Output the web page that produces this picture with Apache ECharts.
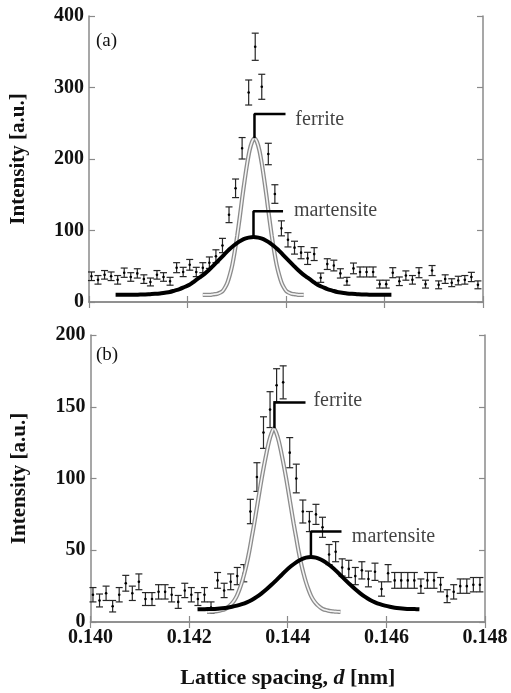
<!DOCTYPE html>
<html>
<head>
<meta charset="utf-8">
<script src="https://cdn.jsdelivr.net/npm/echarts@6/dist/echarts.min.js"></script>
<style>
  html, body { margin: 0; padding: 0; background: #fff; }
  #chart { width: 511px; height: 693px; }
</style>
</head>
<body>
<div id="chart"></div>
<script>
// lattice spacing of the measured points (nm), shared by both panels
var D = [
  0.140050, 0.140183, 0.140316, 0.140449, 0.140582, 0.140715, 0.140848, 0.140981, 0.141114, 0.141247,
  0.141380, 0.141513, 0.141646, 0.141779, 0.141912, 0.142045, 0.142178, 0.142311, 0.142444, 0.142577,
  0.142710, 0.142843, 0.142976, 0.143109, 0.143242, 0.143375, 0.143508, 0.143641, 0.143774, 0.143907,
  0.144040, 0.144173, 0.144306, 0.144439, 0.144572, 0.144705, 0.144838, 0.144971, 0.145104, 0.145237,
  0.145370, 0.145503, 0.145636, 0.145769, 0.145902, 0.146035, 0.146168, 0.146301, 0.146434, 0.146567,
  0.146700, 0.146833, 0.146966, 0.147099, 0.147232, 0.147365, 0.147498, 0.147631, 0.147764, 0.147897
];

// panel (a) measured intensity and error
var A_INT = [
  36, 31, 38, 36, 31, 41, 35, 40, 32, 28,
  38, 35, 29, 48, 42, 52, 42, 48, 55, 64,
  79, 122, 159, 215, 293, 357, 301, 207, 151, 103,
  87, 76, 69, 61, 67, 34, 53, 51, 40, 29,
  47, 42, 42, 42, 25, 25, 41, 29, 37, 31,
  41, 25, 44, 24, 32, 27, 30, 31, 35, 24
];
var A_ERR = [
  6, 6, 6, 6, 6, 6.5, 6, 6.5, 6, 5.5,
  6, 6, 5.5, 7, 6.5, 7.5, 6.5, 7, 8, 9,
  10, 11, 13, 15, 17.5, 19, 17.5, 15, 13, 10.5,
  10, 9, 8.5, 8.5, 9, 6.5, 7.5, 7.5, 6.5, 5.5,
  7.5, 7, 7, 7, 5.5, 5.5, 7, 6, 6.5, 6,
  7, 5.5, 7, 5.5, 6, 5.5, 6, 6, 6.5, 5.5
];

// panel (b) measured intensity and error
var B_INT = [
  19, 15, 20, 11, 19, 27, 20, 28, 16, 16,
  21, 21, 19, 14, 22, 19, 16, 19, 10, 29,
  22, 28, 32, 34, 77, 101, 132, 148, 165, 167,
  118, 100, 77, 70, 75, 66, 47, 49, 38, 37,
  32, 36, 30, 35, 23, 34, 29, 29, 29, 29,
  25, 29, 29, 26, 18, 21, 25, 25, 26, 26
];
var B_ERR = [
  5, 4.5, 5, 4, 5, 5.5, 5, 5.5, 4.5, 4.5,
  5, 5, 5, 4.5, 5, 5, 4.5, 5, 4, 5.5,
  5, 5.5, 6, 6, 8.5, 10, 11, 12.5, 11.5, 11.5,
  10.5, 10, 8, 7, 7, 7, 7, 7, 6, 6,
  6, 6, 5.5, 6, 5, 6, 5.5, 5.5, 5.5, 5.5,
  5, 5.5, 5.5, 5, 4.5, 5, 5, 5, 5, 5
];

// fitted profiles, panel (a)
var FA_FER_D = [
  0.14231, 0.14236, 0.14241, 0.14246, 0.14251, 0.14256, 0.14261, 0.14266, 0.14271, 0.14276,
  0.14281, 0.14286, 0.14291, 0.14296, 0.14301, 0.14306, 0.14311, 0.14316, 0.14321, 0.14326,
  0.14331, 0.14336, 0.14341, 0.14346, 0.14351, 0.14356, 0.14361, 0.14366, 0.14371, 0.14376,
  0.14381, 0.14386, 0.14391, 0.14396, 0.14401, 0.14406, 0.14411, 0.14416, 0.14421, 0.14426,
  0.14431, 0.14436
];
var FA_FER_V = [
  10, 10, 10, 10, 10.5, 11, 11.5, 13, 15, 20,
  27, 38, 52, 71, 93, 118, 145, 170, 193, 212,
  224, 229, 224, 212, 193, 170, 145, 118, 93, 71,
  52, 38, 27, 20, 15, 13, 11.5, 11, 10.5, 10,
  10, 10
];
var FA_MAR_D = [
  0.14054, 0.14064, 0.14074, 0.14084, 0.14094, 0.14104, 0.14114, 0.14124, 0.14134, 0.14144,
  0.14154, 0.14164, 0.14174, 0.14184, 0.14194, 0.14204, 0.14214, 0.14224, 0.14234, 0.14244,
  0.14254, 0.14264, 0.14274, 0.14284, 0.14294, 0.14304, 0.14314, 0.14324, 0.14334, 0.14344,
  0.14354, 0.14364, 0.14374, 0.14384, 0.14394, 0.14404, 0.14414, 0.14424, 0.14434, 0.14444,
  0.14454, 0.14464, 0.14474, 0.14484, 0.14494, 0.14504, 0.14514, 0.14524, 0.14534, 0.14544,
  0.14554, 0.14564, 0.14574, 0.14584, 0.14594, 0.14604, 0.14614
];
var FA_MAR_V = [
  10, 10, 10, 10, 10.2, 10.4, 10.6, 11, 11.4, 12,
  13, 14, 16, 18, 21, 24, 29, 34, 39, 45,
  52, 59, 66, 73, 79, 84, 88, 90, 91, 90,
  88, 84, 79, 73, 66, 59, 52, 45, 39, 34,
  29, 24, 21, 18, 16, 14, 13, 12, 11.4, 11,
  10.6, 10.4, 10.2, 10, 10, 10, 10
];

// fitted profiles, panel (b)
var FB_FER_D = [
  0.14237, 0.14242, 0.14247, 0.14252, 0.14257, 0.14262, 0.14267, 0.14272, 0.14277, 0.14282,
  0.14287, 0.14292, 0.14297, 0.14302, 0.14307, 0.14312, 0.14317, 0.14322, 0.14327, 0.14332,
  0.14337, 0.14342, 0.14347, 0.14352, 0.14357, 0.14362, 0.14367, 0.14372, 0.14377, 0.14382,
  0.14387, 0.14392, 0.14397, 0.14402, 0.14407, 0.14412, 0.14417, 0.14422, 0.14427, 0.14432,
  0.14437, 0.14442, 0.14447, 0.14452, 0.14457, 0.14462, 0.14467, 0.14472, 0.14477, 0.14482,
  0.14487, 0.14492, 0.14497, 0.14502, 0.14507
];
var FB_FER_V = [
  7, 7.1, 7.2, 7.4, 7.6, 7.9, 8.3, 8.9, 9.9, 11.3,
  13, 15.3, 18.4, 22.6, 27.7, 33.8, 40.9, 49.3, 58.9, 68.5,
  78.9, 89.4, 99.8, 109.2, 117.9, 125.8, 131.5, 135, 131.5, 125.8,
  117.9, 109.2, 99.8, 89.4, 78.9, 68.5, 58.9, 49.3, 40.9, 33.8,
  27.7, 22.6, 18.4, 15.3, 13, 11.3, 9.9, 8.9, 8.3, 7.9,
  7.6, 7.4, 7.2, 7.1, 7
];
var FB_MAR_D = [
  0.14217, 0.14227, 0.14237, 0.14247, 0.14257, 0.14267, 0.14277, 0.14287, 0.14297, 0.14307,
  0.14317, 0.14327, 0.14337, 0.14347, 0.14357, 0.14367, 0.14377, 0.14387, 0.14397, 0.14407,
  0.14417, 0.14427, 0.14437, 0.14447, 0.14457, 0.14467, 0.14477, 0.14487, 0.14497, 0.14507,
  0.14517, 0.14527, 0.14537, 0.14547, 0.14557, 0.14567, 0.14577, 0.14587, 0.14597, 0.14607,
  0.14617, 0.14627, 0.14637, 0.14647, 0.14657, 0.14667
];
var FB_MAR_V = [
  8.8, 8.9, 9, 9.1, 9.3, 9.6, 10, 10.6, 11.4, 12.4,
  13.7, 15.4, 17.5, 20, 22.8, 25.9, 29.2, 32.6, 36, 39,
  41.6, 43.6, 44.9, 45.3, 44.9, 43.6, 41.6, 39, 36, 32.6,
  29.2, 25.9, 22.8, 20, 17.5, 15.4, 13.7, 12.4, 11.4, 10.6,
  10, 9.6, 9.3, 9.1, 9, 8.9
];

// peak annotations (data coordinates): bracket corner points and label anchors
var A_FER_BRACKET = [[0.14336, 229], [0.14336, 263], [0.14399, 263]];
var A_MAR_BRACKET = [[0.14334, 91], [0.14334, 127], [0.14394, 127]];
var B_FER_BRACKET = [[0.14373, 135], [0.14373, 153], [0.14436, 153]];
var B_MAR_BRACKET = [[0.14447, 45.3], [0.14447, 63], [0.14509, 63]];
var A_LABELS = [{ name: "ferrite", value: [0.14419, 255.5] }, { name: "martensite", value: [0.14416, 128] }];
var B_LABELS = [{ name: "ferrite", value: [0.14452, 154.5] }, { name: "martensite", value: [0.1453, 59.7] }];

var X_MIN = 0.14, X_MAX = 0.148, X_STEP = 0.002;
var SERIF = "Liberation Serif";

function zip(xs, ys) {
  return xs.map(function (x, i) { return [x, ys[i]]; });
}
function zip3(xs, ys, es) {
  return xs.map(function (x, i) { return [x, ys[i], es[i]]; });
}

function errorBar(params, api) {
  var x = api.value(0), y = api.value(1), e = api.value(2);
  var hi = api.coord([x, y + e]);
  var lo = api.coord([x, y - e]);
  var mid = api.coord([x, y]);
  var cap = 3.5;
  var st = { stroke: "#262626", lineWidth: 1.2 };
  return {
    type: "group",
    children: [
      { type: "line", shape: { x1: hi[0], y1: hi[1], x2: lo[0], y2: lo[1] }, style: st },
      { type: "line", shape: { x1: hi[0] - cap, y1: hi[1], x2: hi[0] + cap, y2: hi[1] }, style: st },
      { type: "line", shape: { x1: lo[0] - cap, y1: lo[1], x2: lo[0] + cap, y2: lo[1] }, style: st },
      { type: "circle", shape: { cx: mid[0], cy: mid[1], r: 1.3 }, style: { fill: "#000" } }
    ]
  };
}

var axisLine = { show: true, lineStyle: { color: "#8a8a8a", width: 1.5 } };
var axisTick = { show: true, inside: true, length: 6, lineStyle: { color: "#8a8a8a", width: 1.2 } };
var tickFont = { fontFamily: SERIF, fontWeight: "bold", fontSize: 20, color: "#111" };

function xAxes(gridIndex, showLabels) {
  var bottom = {
    type: "value", gridIndex: gridIndex, position: "bottom",
    min: X_MIN, max: X_MAX, interval: X_STEP,
    axisLine: axisLine, axisTick: axisTick, splitLine: { show: false },
    axisLabel: Object.assign({ show: showLabels, margin: 6,
      formatter: function (v) { return v.toFixed(3); } }, tickFont)
  };
  if (showLabels) {
    bottom.name = "Lattice spacing, {i|d} [nm]";
    bottom.nameLocation = "middle";
    bottom.nameGap = 45;
    bottom.nameTextStyle = {
      fontFamily: SERIF, fontWeight: "bold", fontSize: 22, color: "#111",
      rich: { i: { fontFamily: SERIF, fontWeight: "bold", fontStyle: "italic", fontSize: 22, color: "#111" } }
    };
  }
  var top = {
    type: "value", gridIndex: gridIndex, position: "top",
    min: X_MIN, max: X_MAX, interval: X_STEP,
    axisLine: axisLine, axisTick: axisTick, splitLine: { show: false },
    axisLabel: { show: false }
  };
  return [bottom, top];
}

function yAxes(gridIndex, max, step) {
  var left = {
    type: "value", gridIndex: gridIndex, position: "left",
    min: 0, max: max, interval: step,
    axisLine: axisLine, axisTick: axisTick, splitLine: { show: false },
    axisLabel: Object.assign({ margin: 5 }, tickFont),
    name: "Intensity [a.u.]", nameLocation: "middle", nameRotate: 90, nameGap: 60,
    nameTextStyle: { fontFamily: SERIF, fontWeight: "bold", fontSize: 21, color: "#111" }
  };
  var right = {
    type: "value", gridIndex: gridIndex, position: "right",
    min: 0, max: max, interval: step,
    axisLine: axisLine, axisTick: axisTick, splitLine: { show: false },
    axisLabel: { show: false }
  };
  return [left, right];
}

function panelSeries(xi, yi, pts, ferrite, martensite, brackets, labels) {
  var list = [
    { type: "custom", xAxisIndex: xi, yAxisIndex: yi, renderItem: errorBar, data: pts, z: 2 },
    { type: "line", xAxisIndex: xi, yAxisIndex: yi, data: ferrite, smooth: 0.3, showSymbol: false,
      lineStyle: { color: "#8c8c8c", width: 4.2 }, z: 3 },
    { type: "line", xAxisIndex: xi, yAxisIndex: yi, data: ferrite, smooth: 0.3, showSymbol: false,
      lineStyle: { color: "#f4f4f4", width: 1.6 }, z: 4 },
    { type: "line", xAxisIndex: xi, yAxisIndex: yi, data: martensite, smooth: 0.3, showSymbol: false,
      lineStyle: { color: "#000", width: 4 }, z: 5 }
  ];
  brackets.forEach(function (b) {
    list.push({ type: "line", xAxisIndex: xi, yAxisIndex: yi, data: b, showSymbol: false,
      lineStyle: { color: "#000", width: 2.5 }, z: 6 });
  });
  list.push({
    type: "scatter", xAxisIndex: xi, yAxisIndex: yi, data: labels, symbolSize: 0, z: 7,
    label: { show: true, position: "right", distance: 0, formatter: "{b}",
      fontFamily: SERIF, fontSize: 20, color: "#111" }
  });
  return list;
}

var chart = echarts.init(document.getElementById("chart"));
var option = {
  animation: false,
  backgroundColor: "#fff",
  grid: [
    { left: 88, top: 16, width: 395, height: 286 },
    { left: 90.5, top: 335, width: 394.5, height: 287 }
  ],
  xAxis: xAxes(0, false).concat(xAxes(1, true)),
  yAxis: yAxes(0, 400, 100).concat(yAxes(1, 200, 50)),
  graphic: [
    { type: "text", left: 96, top: 32, style: { text: "(a)", font: "19px '" + SERIF + "'", fill: "#111" } },
    { type: "text", left: 96, top: 346, style: { text: "(b)", font: "19px '" + SERIF + "'", fill: "#111" } }
  ],
  series: [].concat(
    panelSeries(0, 0, zip3(D, A_INT, A_ERR), zip(FA_FER_D, FA_FER_V), zip(FA_MAR_D, FA_MAR_V),
      [A_FER_BRACKET, A_MAR_BRACKET], A_LABELS),
    panelSeries(2, 2, zip3(D, B_INT, B_ERR), zip(FB_FER_D, FB_FER_V), zip(FB_MAR_D, FB_MAR_V),
      [B_FER_BRACKET, B_MAR_BRACKET], B_LABELS)
  )
};
chart.setOption(option);
</script>
</body>
</html>
